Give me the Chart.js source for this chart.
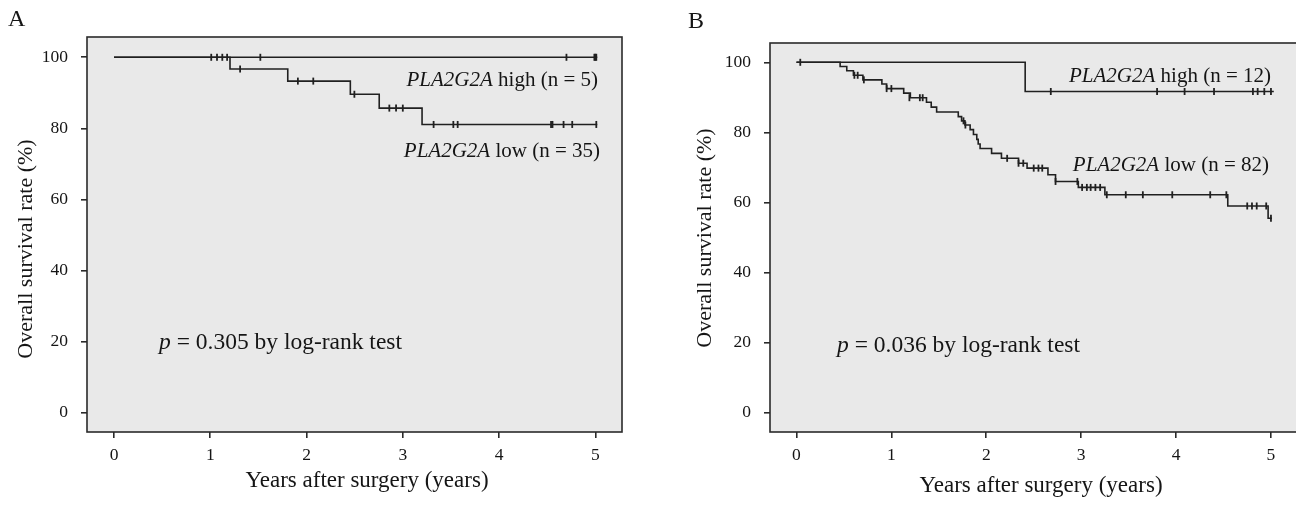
<!DOCTYPE html>
<html>
<head>
<meta charset="utf-8">
<script src="https://cdn.jsdelivr.net/npm/chart.js@4/dist/chart.umd.min.js"></script>
<style>
  html, body { margin: 0; padding: 0; background: #ffffff; width: 1296px; height: 505px; overflow: hidden; position: relative; }
  canvas { position: absolute; top: 0; }
  #cA { left: 0; }
  #cB { left: 648px; }
</style>
</head>
<body>
<canvas id="cA" width="648" height="505"></canvas>
<canvas id="cB" width="650" height="505"></canvas>
<script>
// ---------------- DATA ----------------
const xTickValues = [0, 1, 2, 3, 4, 5];
const yTickValues = [0, 20, 40, 60, 80, 100];

// Panel A
const aHighTimes = [0, 5.02];
const aHighSurv  = [100, 100];
const aHighCensorTimes = [1.52, 4.70, 4.99, 5.0, 5.01];
const aHighCensorSurv  = [100, 100, 100, 100, 100];

const aLowTimes = [0, 1.205, 1.805, 2.455, 2.755, 3.20, 5.02];
const aLowSurv  = [100, 96.7, 93.3, 89.6, 85.7, 81.1, 81.1];
const aLowCensorTimes = [1.01, 1.07, 1.125, 1.175, 1.31, 1.91, 2.07, 2.497, 2.86, 2.93, 3.0, 3.32, 3.525, 3.57, 4.54, 4.555, 4.67, 4.76, 5.01];
const aLowCensorSurv  = [100, 100, 100, 100, 96.7, 93.3, 93.3, 89.6, 85.7, 85.7, 85.7, 81.1, 81.1, 81.1, 81.1, 81.1, 81.1, 81.1, 81.1];

// Panel B
const bHighTimes = [0, 2.41, 5.03];
const bHighSurv  = [100, 91.67, 91.67];
const bHighCensorTimes = [2.68, 3.80, 4.09, 4.40, 4.81, 4.86, 4.93, 5.0];
const bHighCensorSurv  = [91.67, 91.67, 91.67, 91.67, 91.67, 91.67, 91.67, 91.67];

const bLowTimes = [0, 0.46, 0.53, 0.60, 0.70, 0.90, 0.95, 1.13, 1.20, 1.37, 1.42, 1.477, 1.705, 1.74, 1.775, 1.83, 1.865, 1.90, 1.915, 1.935, 2.056, 2.16, 2.34, 2.43, 2.65, 2.73, 2.97, 3.25, 4.545, 4.97, 5.01];
const bLowSurv  = [100, 98.8, 97.6, 96.3, 95.0, 93.8, 92.5, 91.2, 89.9, 88.6, 87.2, 85.8, 84.5, 83.3, 82.1, 80.8, 79.4, 78.0, 76.7, 75.4, 74.0, 72.6, 71.2, 69.8, 67.9, 66.0, 64.3, 62.2, 59.0, 55.5, 55.5];
const bLowCensorTimes = [0.04, 0.61, 0.645, 0.71, 0.95, 1.0, 1.19, 1.30, 1.33, 1.76, 1.78, 2.22, 2.34, 2.39, 2.50, 2.55, 2.59, 2.73, 2.96, 3.01, 3.06, 3.10, 3.15, 3.20, 3.27, 3.47, 3.65, 3.96, 4.36, 4.53, 4.75, 4.80, 4.85, 4.95, 5.0];
const bLowCensorSurv  = [100, 96.3, 96.3, 95.0, 92.5, 92.5, 89.9, 89.9, 89.9, 83.3, 82.1, 72.6, 71.2, 71.2, 69.8, 69.8, 69.8, 66.0, 66.0, 64.3, 64.3, 64.3, 64.3, 64.3, 62.2, 62.2, 62.2, 62.2, 62.2, 62.2, 59.0, 59.0, 59.0, 59.0, 55.5];

// Text
const aPanelLabel = "A";
const bPanelLabel = "B";
const geneName = "PLA2G2A";
const aHighLabel = " high (n = 5)";
const aLowLabel = " low (n = 35)";
const bHighLabel = " high (n = 12)";
const bLowLabel = " low (n = 82)";
const aPText = " = 0.305 by log-rank test";
const bPText = " = 0.036 by log-rank test";
const xTitle = "Years after surgery (years)";
const yTitle = "Overall survival rate (%)";

// ---------------- RENDER ----------------
const SERIF = '"Liberation Serif", "Times New Roman", Times, serif';
const INK = '#151515';
const LINE = '#202020';

function pts(xs, ys) { return xs.map((x, i) => ({ x: x, y: ys[i] })); }

function curve(xs, ys) {
  return { data: pts(xs, ys), stepped: 'before', borderColor: LINE, borderWidth: 1.6,
           pointRadius: 0, fill: false, showLine: true, order: 2 };
}
function censor(xs, ys) {
  return { data: pts(xs, ys), showLine: false, pointStyle: 'line', rotation: 90,
           pointRadius: 3.5, pointBorderWidth: 1.8, pointBorderColor: LINE,
           pointBackgroundColor: LINE, borderColor: LINE, order: 1 };
}

function mixedRight(ctx, italicPart, rest, xRight, yBase, size) {
  ctx.font = 'italic ' + size + 'px ' + SERIF;
  const w1 = ctx.measureText(italicPart).width;
  ctx.font = size + 'px ' + SERIF;
  const w2 = ctx.measureText(rest).width;
  const x0 = xRight - w1 - w2;
  ctx.textAlign = 'left';
  ctx.textBaseline = 'alphabetic';
  ctx.font = 'italic ' + size + 'px ' + SERIF;
  ctx.fillText(italicPart, x0, yBase);
  ctx.font = size + 'px ' + SERIF;
  ctx.fillText(rest, x0 + w1, yBase);
}
function mixedLeft(ctx, italicPart, rest, xLeft, yBase, size) {
  ctx.textAlign = 'left';
  ctx.textBaseline = 'alphabetic';
  ctx.font = 'italic ' + size + 'px ' + SERIF;
  ctx.fillText(italicPart, xLeft, yBase);
  const w1 = ctx.measureText(italicPart).width;
  ctx.font = size + 'px ' + SERIF;
  ctx.fillText(rest, xLeft + w1, yBase);
}

function makePanel(canvasId, cfg) {
  const decor = {
    id: 'decor_' + canvasId,
    beforeDatasetsDraw(chart) {
      const { ctx, chartArea: a } = chart;
      ctx.save();
      ctx.fillStyle = '#e9e9e9';
      ctx.fillRect(a.left, a.top, a.right - a.left, a.bottom - a.top);
      ctx.restore();
    },
    afterDraw(chart) {
      const { ctx, chartArea: a } = chart;
      ctx.save();
      ctx.strokeStyle = '#2a2a2a';
      ctx.lineWidth = 1.6;
      ctx.strokeRect(a.left, a.top, a.right - a.left, a.bottom - a.top);
      ctx.fillStyle = INK;
      // panel letter
      ctx.font = '24px ' + SERIF;
      ctx.textAlign = 'left';
      ctx.textBaseline = 'alphabetic';
      ctx.fillText(cfg.letter, cfg.letterX, cfg.letterY);
      // group labels
      mixedRight(ctx, geneName, cfg.highLabel, cfg.highX, cfg.highY, 21);
      mixedRight(ctx, geneName, cfg.lowLabel, cfg.lowX, cfg.lowY, 21);
      // p value
      mixedLeft(ctx, 'p', cfg.pText, cfg.pX, cfg.pY, 23.5);
      // axis titles
      ctx.font = '23px ' + SERIF;
      ctx.textAlign = 'center';
      ctx.textBaseline = 'middle';
      ctx.fillText(xTitle, cfg.xTitleX, cfg.xTitleY);
      ctx.font = '22px ' + SERIF;
      ctx.save();
      ctx.translate(cfg.yTitleX, cfg.yTitleY);
      ctx.rotate(-Math.PI / 2);
      ctx.fillText(yTitle, 0, 0);
      ctx.restore();
      ctx.restore();
    }
  };

  return new Chart(document.getElementById(canvasId), {
    type: 'line',
    data: { datasets: cfg.datasets },
    options: {
      responsive: false,
      animation: false,
      devicePixelRatio: 1,
      layout: { autoPadding: false, padding: { top: cfg.padTop, right: cfg.padRight, left: 0, bottom: 0 } },
      plugins: { legend: { display: false }, tooltip: { enabled: false }, title: { display: false } },
      elements: { line: { tension: 0 } },
      scales: {
        x: {
          type: 'linear', min: cfg.xMin, max: cfg.xMax,
          afterBuildTicks: s => { s.ticks = xTickValues.map(v => ({ value: v })); },
          afterFit: s => { s.height = 73; },
          grid: { drawOnChartArea: false, drawTicks: true, tickLength: 6, color: '#2a2a2a', lineWidth: 1.6 },
          border: { display: false },
          ticks: { color: INK, font: { family: SERIF, size: 17.5 }, padding: 7, maxRotation: 0, autoSkip: false,
                   callback: v => String(v) }
        },
        y: {
          type: 'linear', min: cfg.yMin, max: cfg.yMax,
          afterBuildTicks: s => { s.ticks = yTickValues.map(v => ({ value: v })); },
          afterFit: s => { s.width = cfg.yWidth; },
          grid: { drawOnChartArea: false, drawTicks: true, tickLength: 6, color: '#2a2a2a', lineWidth: 1.6 },
          border: { display: false },
          ticks: { color: INK, font: { family: SERIF, size: 17.5 }, padding: 13, autoSkip: false,
                   callback: v => String(v) }
        }
      }
    },
    plugins: [decor]
  });
}

makePanel('cA', {
  datasets: [curve(aHighTimes, aHighSurv), curve(aLowTimes, aLowSurv),
             censor(aHighCensorTimes, aHighCensorSurv), censor(aLowCensorTimes, aLowCensorSurv)],
  padTop: 37, padRight: 26, yWidth: 87,
  xMin: -0.2805, xMax: 5.277, yMin: -5.43, yMax: 105.71,
  letter: aPanelLabel, letterX: 8, letterY: 26,
  highLabel: aHighLabel, highX: 598, highY: 86,
  lowLabel: aLowLabel, lowX: 600, lowY: 157,
  pText: aPText, pX: 159, pY: 349,
  xTitleX: 367, xTitleY: 481, yTitleX: 26, yTitleY: 249
});

makePanel('cB', {
  datasets: [curve(bHighTimes, bHighSurv), curve(bLowTimes, bLowSurv),
             censor(bHighCensorTimes, bHighCensorSurv), censor(bLowCensorTimes, bLowCensorSurv)],
  padTop: 43, padRight: 0, yWidth: 122,
  xMin: -0.279, xMax: 5.285, yMin: -5.5, yMax: 105.51,
  letter: bPanelLabel, letterX: 40, letterY: 28,
  highLabel: bHighLabel, highX: 623, highY: 82,
  lowLabel: bLowLabel, lowX: 621, lowY: 171,
  pText: bPText, pX: 189, pY: 352,
  xTitleX: 393, xTitleY: 486, yTitleX: 57, yTitleY: 238
});
</script>
</body>
</html>
